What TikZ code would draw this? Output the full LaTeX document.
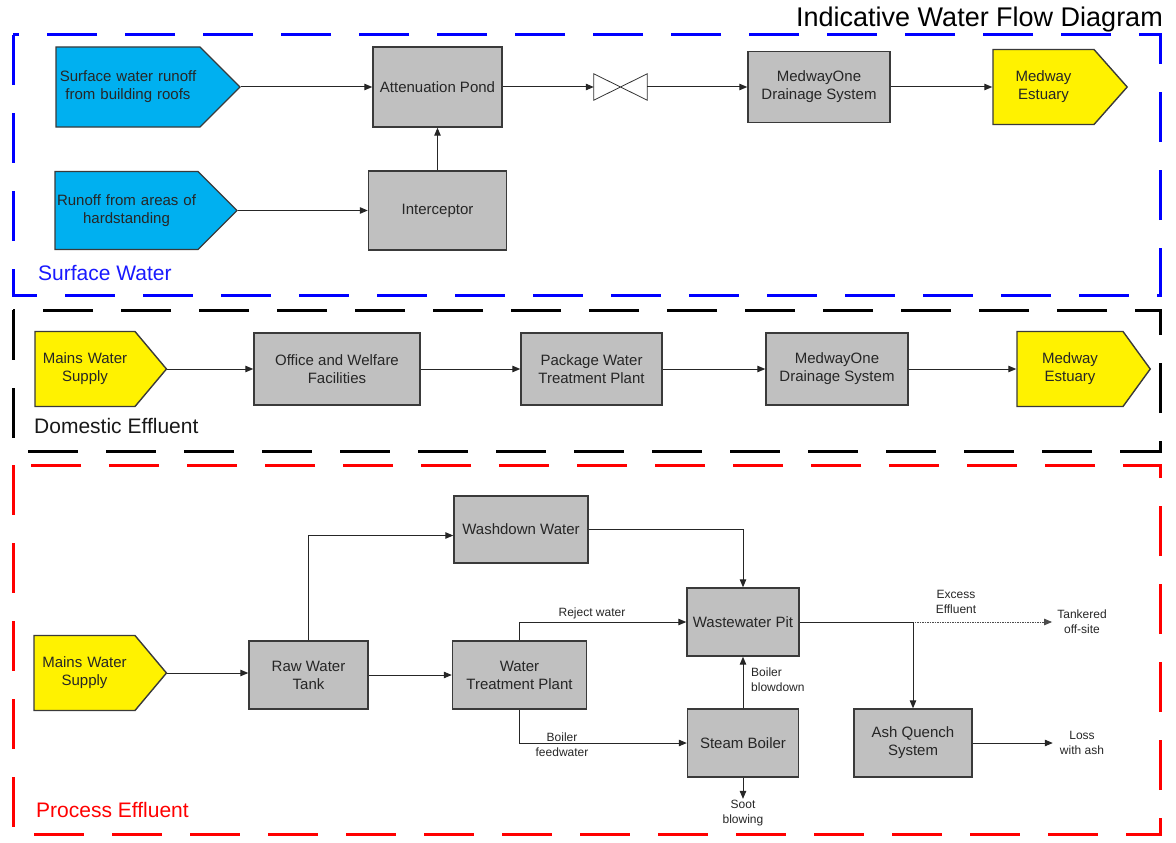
\documentclass[tikz,border=0pt]{standalone}
\usepackage{fontspec}
\setmainfont{Liberation Sans}
\usetikzlibrary{arrows.meta,shapes.symbols}
\definecolor{roofblue}{HTML}{00B0F0}
\definecolor{boxgray}{HTML}{C0C0C0}
\definecolor{edgegray}{HTML}{3A3A3A}
\begin{document}
\begin{tikzpicture}[x=1pt, y=-1pt, line join=miter,
    box/.style={draw=edgegray, fill=boxgray, line width=1.4pt, align=center,
      inner sep=2pt, text=black!85, font=\fontsize{15}{18}\selectfont},
    src/.style={signal, signal to=east, draw=edgegray, line width=1.4pt,
      align=center, inner xsep=0pt, inner ysep=0pt, minimum height=75pt,
      text=black!85, font=\fontsize{15}{18}\selectfont},
    note/.style={align=center, inner sep=1pt, text=black!85,
      font=\fontsize{12}{15}\selectfont},
    flow/.style={draw=black!85, line width=1pt, -{Triangle[length=8pt,width=6.5pt]}},
    zone/.style={line width=3pt, dash pattern=on 50pt off 28pt},
    zonelbl/.style={anchor=base west, inner sep=0pt, font=\fontsize{21}{25}\selectfont}]
  \useasboundingbox (0,0) rectangle (1176,843);
  \node[anchor=base east, inner sep=0pt, font=\fontsize{27}{32}\selectfont] (title) at (1163,27) {Indicative Water Flow Diagram};

  % surface water
  \draw[zone, draw=blue] (13,35) rectangle (1160,295);
  \node[zonelbl, text=blue!90] (swlbl) at (38,280) {Surface Water};
  \node[src, fill=roofblue, text width=144pt, minimum height=80pt, signal pointer angle=90] (roof) at (128,87) {Surface water runoff\\from building roofs};
  \node[src, fill=roofblue, text width=143pt, minimum height=78pt, signal pointer angle=90] (hard) at (126.5,210.5) {Runoff from areas of\\hardstanding};
  \node[box, minimum width=129pt, minimum height=80pt] (pond) at (437.5,87) {Attenuation Pond};
  \node[box, minimum width=138pt, minimum height=79pt] (intcp) at (437.5,210.5) {Interceptor};
  \node[minimum width=53pt, minimum height=26pt, inner sep=0pt] (valve) at (620.5,87) {};
  \draw[line width=0.8pt, draw=black!80] (valve.north west) -- (valve.south east) -- (valve.north east) -- (valve.south west) -- cycle;
  \node[box, minimum width=142pt, minimum height=71pt] (drain1) at (819,87) {MedwayOne\\Drainage System};
  \node[src, fill=yellow, text width=101pt, signal pointer angle=97] (est1) at (1043.5,87) {Medway\\Estuary};
  \draw[flow] (roof.east) -- (pond.west);
  \draw[flow] (hard.east) -- (intcp.west);
  \draw[flow] (intcp.north) -- (pond.south);
  \draw[flow] (pond.east) -- (valve.west);
  \draw[flow] (valve.east) -- (drain1.west);
  \draw[flow] (drain1.east) -- (est1.west);

  % domestic effluent
  \draw[zone, draw=black] (13,310) rectangle (1160,451);
  \node[zonelbl, text=black!90] (delbl) at (34,433) {Domestic Effluent};
  \node[src, fill=yellow, text width=100pt, signal pointer angle=100] (mains1) at (85,369) {Mains Water\\Supply};
  \node[box, minimum width=166pt, minimum height=72pt] (office) at (337,369) {Office and Welfare\\Facilities};
  \node[box, minimum width=141pt, minimum height=72pt] (pkg) at (591.5,369) {Package Water\\Treatment Plant};
  \node[box, minimum width=142pt, minimum height=72pt] (drain2) at (837,369) {MedwayOne\\Drainage System};
  \node[src, fill=yellow, text width=106pt, signal pointer angle=108] (est2) at (1070,369) {Medway\\Estuary};
  \draw[flow] (mains1.east) -- (office.west);
  \draw[flow] (office.east) -- (pkg.west);
  \draw[flow] (pkg.east) -- (drain2.west);
  \draw[flow] (drain2.east) -- (est2.west);

  % process effluent
  \draw[zone, draw=red] (13,465) rectangle (1160,834);
  \node[zonelbl, text=red] (pelbl) at (36,817) {Process Effluent};
  \node[src, fill=yellow, text width=101pt, signal pointer angle=100] (mains2) at (84.5,673) {Mains Water\\Supply};
  \node[box, minimum width=119pt, minimum height=68pt] (raw) at (308.5,675) {Raw Water\\Tank};
  \node[box, minimum width=134pt, minimum height=68pt] (wtp) at (519.5,675) {Water\\Treatment Plant};
  \node[box, minimum width=134pt, minimum height=67pt] (wash) at (521,529.5) {Washdown Water};
  \node[box, minimum width=112pt, minimum height=68pt] (pit) at (743,622) {Wastewater Pit};
  \node[box, minimum width=111pt, minimum height=68pt] (boiler) at (743,743) {Steam Boiler};
  \node[box, minimum width=118pt, minimum height=68pt] (ash) at (913,743) {Ash Quench\\System};
  \node[note] (reject) at (592,613) {Reject water};
  \node[note] (feed) at (562,745) {Boiler\\feedwater};
  \node[note, anchor=west, align=left] (blow) at (750,680) {Boiler\\blowdown};
  \node[note] (soot) at (743,813) {Soot\\blowing};
  \node[note] (excess) at (956,602) {Excess\\Effluent};
  \node[note, inner xsep=5pt] (tank) at (1082,622) {Tankered\\off-site};
  \node[note, inner xsep=7pt] (loss) at (1082,743) {Loss\\with ash};
  \draw[flow] (mains2.east) -- (mains2.east -| raw.west);
  \draw[flow] (raw.east) -- (wtp.west);
  \draw[flow] (raw.north) |- ([yshift=-6pt]wash.west);
  \draw[flow] (wash.east) -| (pit.north);
  \draw[flow] (wtp.north) |- (pit.west);
  \draw[flow] (wtp.south) |- (boiler.west);
  \draw[flow] (boiler.north) -- (pit.south);
  \draw[flow] (boiler.south) -- (soot.north);
  \draw[flow, draw=black!70, dash pattern=on 1.5pt off 1pt] (pit.east) -- (tank.west);
  \draw[flow] (pit.east) -| (ash.north);
  \draw[flow] (ash.east) -- (loss.west);
\end{tikzpicture}
\end{document}
